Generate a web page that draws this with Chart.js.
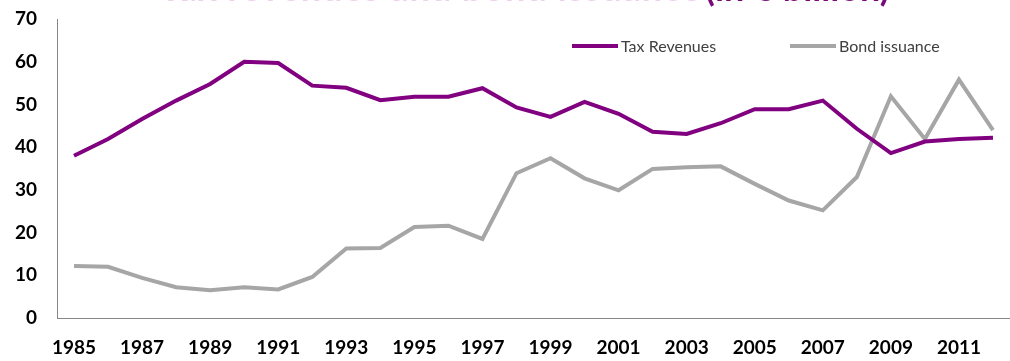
<!DOCTYPE html>
<html>
<head>
<meta charset="utf-8">
<script src="https://cdn.jsdelivr.net/npm/chart.js@4/dist/chart.umd.min.js"></script>
<style>
  html, body { margin: 0; padding: 0; background: #fff; overflow: hidden; }
  #wrap { position: relative; width: 1010px; height: 361px; overflow: hidden; }
  #chart { display: block; }
  .title {
    position: absolute; top: -31.5px; white-space: nowrap;
    font: bold 36px Lato, sans-serif; line-height: 36px;
  }
  .legend-item {
    position: absolute; top: 36px; display: flex; align-items: center;
    font: 16px Lato, sans-serif; color: #404040; white-space: nowrap;
  }
  .legend-item i { display: inline-block; width: 46px; height: 4px; margin-right: 3px; }
</style>
</head>
<body>
<div id="wrap">
  <canvas id="chart" width="1010" height="361"></canvas>
  <div class="title" style="left:160px; color:#ecd0ec; letter-spacing:1px">Tax revenues and bond issuance</div>
  <div class="title" style="left:705px; color:#7a0a7a">(in € billion)</div>
  <div class="legend-item" style="left:572px"><i style="background:#800080"></i>Tax Revenues</div>
  <div class="legend-item" style="left:790px"><i style="background:#a6a6a6"></i>Bond issuance</div>
</div>
<script>
// Data
const years = ['1985', '1986', '1987', '1988', '1989', '1990', '1991', '1992', '1993', '1994',
  '1995', '1996', '1997', '1998', '1999', '2000', '2001', '2002', '2003', '2004',
  '2005', '2006', '2007', '2008', '2009', '2010', '2011', '2012'];

const taxRevenues = [38.0, 41.9, 46.6, 50.9, 54.8, 60.0, 59.7, 54.4, 53.9, 51.0,
  51.8, 51.8, 53.8, 49.3, 47.1, 50.6, 47.8, 43.6, 43.1, 45.6,
  48.9, 48.9, 50.9, 44.3, 38.6, 41.3, 41.9, 42.2];

const bondIssuance = [12.2, 12.0, 9.4, 7.2, 6.5, 7.2, 6.7, 9.6, 16.3, 16.4,
  21.3, 21.6, 18.5, 33.9, 37.4, 32.7, 29.9, 34.9, 35.3, 35.5,
  31.4, 27.5, 25.2, 33.0, 51.9, 41.9, 55.8, 44.0];

const yTicks = [0, 10, 20, 30, 40, 50, 60, 70];

const tickFont = { family: 'Lato', size: 19, weight: 'bold' };

new Chart(document.getElementById('chart'), {
  type: 'line',
  data: {
    labels: years,
    datasets: [
      {
        label: 'Tax Revenues',
        data: taxRevenues,
        borderColor: '#800080',
        backgroundColor: '#800080',
        borderWidth: 4,
        pointRadius: 0,
        tension: 0,
      },
      {
        label: 'Bond issuance',
        data: bondIssuance,
        borderColor: '#a6a6a6',
        backgroundColor: '#a6a6a6',
        borderWidth: 4,
        pointRadius: 0,
        tension: 0,
      },
    ],
  },
  options: {
    responsive: false,
    animation: false,
    layout: { padding: { top: 19, right: 0, left: 0, bottom: 0 } },
    plugins: {
      legend: { display: false }, // HTML legend drawn over the plot
      tooltip: { enabled: false },
    },
    scales: {
      x: {
        offset: true,
        grid: { display: false, drawTicks: false },
        border: { display: true, color: '#868686', width: 1 },
        ticks: {
          autoSkip: false,
          maxRotation: 0,
          padding: 18,
          color: '#000',
          font: tickFont,
          callback: (value, index) => (index % 2 === 0 ? years[index] : ''),
        },
        afterFit: (axis) => {
          axis.height = 43;
          axis.paddingLeft = 0;
          axis.paddingRight = 0;
        },
      },
      y: {
        min: 0,
        max: 70,
        afterBuildTicks: (axis) => { axis.ticks = yTicks.map(v => ({ value: v })); },
        grid: { display: false, drawTicks: false },
        border: { display: true, color: '#868686', width: 1 },
        ticks: {
          padding: 20,
          color: '#000',
          font: tickFont,
        },
        afterFit: (axis) => {
          axis.width = 57;
          axis.paddingTop = 0;
          axis.paddingBottom = 0;
        },
      },
    },
  },
});
</script>
</body>
</html>
